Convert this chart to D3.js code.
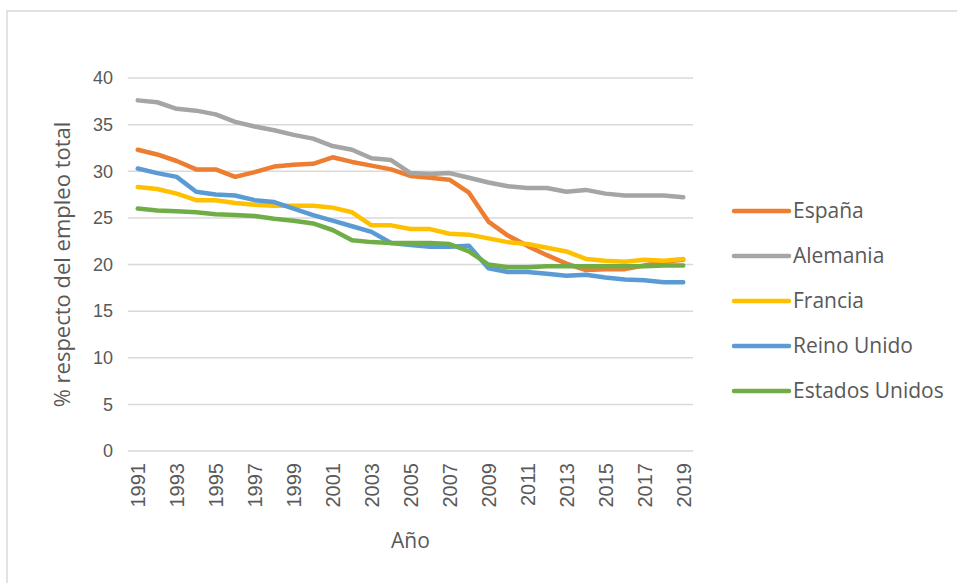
<!DOCTYPE html>
<html>
<head>
<meta charset="utf-8">
<script src="https://cdn.jsdelivr.net/npm/d3@7"></script>
<style>
  html, body { margin: 0; padding: 0; background: #fff; }
  svg { display: block; font-family: "Open Sans", Calibri, "Liberation Sans", sans-serif; }
</style>
</head>
<body>
<svg id="chart" width="957" height="583"></svg>
<script>
// Años (eje de categorías)
const years = d3.range(1991, 2020);

// Empleo industrial, % respecto del empleo total
const espana = [32.3, 31.8, 31.1, 30.2, 30.2, 29.4, 29.9, 30.5, 30.7, 30.8, 31.5, 31.0, 30.6, 30.2, 29.5, 29.3, 29.1, 27.7, 24.6, 23.1, 22.0, 21.0, 20.1, 19.4, 19.5, 19.5, 19.9, 20.3, 20.5];
const alemania = [37.6, 37.4, 36.7, 36.5, 36.1, 35.3, 34.8, 34.4, 33.9, 33.5, 32.7, 32.3, 31.4, 31.2, 29.8, 29.7, 29.8, 29.3, 28.8, 28.4, 28.2, 28.2, 27.8, 28.0, 27.6, 27.4, 27.4, 27.4, 27.2];
const francia = [28.3, 28.1, 27.6, 26.9, 26.9, 26.6, 26.4, 26.3, 26.3, 26.3, 26.1, 25.6, 24.2, 24.2, 23.8, 23.8, 23.3, 23.2, 22.8, 22.4, 22.2, 21.8, 21.4, 20.6, 20.4, 20.3, 20.5, 20.4, 20.6];
const reinoUnido = [30.3, 29.8, 29.4, 27.8, 27.5, 27.4, 26.9, 26.7, 26.0, 25.3, 24.7, 24.1, 23.5, 22.3, 22.1, 21.9, 21.9, 22.0, 19.6, 19.2, 19.2, 19.0, 18.8, 18.9, 18.6, 18.4, 18.3, 18.1, 18.1];
const estadosUnidos = [26.0, 25.8, 25.7, 25.6, 25.4, 25.3, 25.2, 24.9, 24.7, 24.4, 23.7, 22.6, 22.4, 22.3, 22.3, 22.3, 22.2, 21.4, 20.0, 19.7, 19.7, 19.8, 19.8, 19.8, 19.8, 19.8, 19.8, 19.9, 19.9];

const seriesNames = ["España", "Alemania", "Francia", "Reino Unido", "Estados Unidos"];
const seriesValues = [espana, alemania, francia, reinoUnido, estadosUnidos];
const seriesColors = ["#ED7D31", "#A5A5A5", "#FFC000", "#5B9BD5", "#70AD47"];

const yTicks = [0, 5, 10, 15, 20, 25, 30, 35, 40];
const xTickYears = years.filter(y => (y - 1991) % 2 === 0);

const svg = d3.select("#chart");
const textColor = "#595959";
const gridColor = "#D9D9D9";

// Marco del área del gráfico
svg.append("rect")
  .attr("x", 7).attr("y", 11)
  .attr("width", 1000).attr("height", 1000)
  .attr("fill", "none")
  .attr("stroke", gridColor)
  .attr("stroke-width", 1.5);

const plot = { left: 128, right: 693, top: 78, bottom: 451 };

const x = d3.scalePoint()
  .domain(years)
  .range([plot.left, plot.right])
  .padding(0.5);

const y = d3.scaleLinear()
  .domain([0, 40])
  .range([plot.bottom, plot.top]);

// Líneas de cuadrícula horizontales
svg.append("g")
  .selectAll("line")
  .data(yTicks)
  .join("line")
  .attr("x1", plot.left).attr("x2", plot.right)
  .attr("y1", d => y(d)).attr("y2", d => y(d))
  .attr("stroke", gridColor)
  .attr("stroke-width", 1.5);

// Eje Y
const yAxis = svg.append("g")
  .attr("transform", `translate(${plot.left},0)`)
  .call(d3.axisLeft(y).tickValues(yTicks).tickSize(0).tickPadding(15));
yAxis.select(".domain").remove();
yAxis.selectAll("text")
  .attr("fill", textColor)
  .style("font-size", "18px");

// Eje X (etiquetas giradas)
const xAxis = svg.append("g")
  .attr("transform", `translate(0,${plot.bottom})`)
  .call(d3.axisBottom(x).tickValues(xTickYears).tickSize(0));
xAxis.select(".domain").remove();
xAxis.selectAll("text")
  .attr("fill", textColor)
  .style("font-size", "20px")
  .attr("transform", "rotate(-90)")
  .attr("text-anchor", "end")
  .attr("x", -12)
  .attr("y", 0)
  .attr("dy", "0.35em");

// Títulos de los ejes
svg.append("text")
  .attr("transform", `translate(62,${(plot.top + plot.bottom) / 2}) rotate(-90)`)
  .attr("text-anchor", "middle")
  .attr("dy", "0.35em")
  .attr("fill", textColor)
  .style("font-size", "22px")
  .text("% respecto del empleo total");

svg.append("text")
  .attr("x", (plot.left + plot.right) / 2)
  .attr("y", 541)
  .attr("text-anchor", "middle")
  .attr("dy", "0.35em")
  .attr("fill", textColor)
  .style("font-size", "21px")
  .text("Año");

// Series
const line = d3.line()
  .x((d, i) => x(years[i]))
  .y(d => y(d));

svg.append("g")
  .selectAll("path")
  .data(seriesValues)
  .join("path")
  .attr("d", d => line(d))
  .attr("fill", "none")
  .attr("stroke", (d, i) => seriesColors[i])
  .attr("stroke-width", 4.5)
  .attr("stroke-linejoin", "round")
  .attr("stroke-linecap", "round");

// Leyenda
const legend = svg.append("g")
  .selectAll("g")
  .data(seriesNames)
  .join("g")
  .attr("transform", (d, i) => `translate(734,${211 + i * 45})`);

legend.append("line")
  .attr("x1", 0).attr("x2", 55)
  .attr("y1", 0).attr("y2", 0)
  .attr("stroke", (d, i) => seriesColors[i])
  .attr("stroke-width", 4.5)
  .attr("stroke-linecap", "round");

legend.append("text")
  .attr("x", 59)
  .attr("y", 0)
  .attr("dy", "0.35em")
  .attr("fill", textColor)
  .style("font-size", "21px")
  .text(d => d);
</script>
</body>
</html>
